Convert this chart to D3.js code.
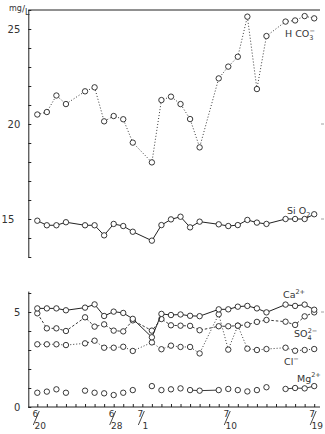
<!DOCTYPE html>
<html><head><meta charset="utf-8">
<script src="https://cdn.jsdelivr.net/npm/d3@7"></script>
<style>
html,body{margin:0;padding:0;background:#fff;}
svg text{font-family:"DejaVu Sans",sans-serif;fill:#333;}
</style></head>
<body><svg id="c" width="325" height="434"></svg>
<script>
// day index 0 = 6/20 ... 29 = 7/19 ; null = no sample
const days = d3.range(0, 30);
const hco3 = [20.5,20.63,21.5,21.05,null,21.72,21.93,20.14,20.42,20.25,19.02,null,17.98,21.26,21.44,21.05,20.26,18.77,null,22.4,23.02,23.54,25.65,21.84,24.63,null,25.39,25.45,25.68,25.56];
const sio2 = [14.91,14.67,14.67,14.83,null,14.67,14.67,14.14,14.74,14.63,14.33,null,13.86,14.68,14.98,15.12,14.56,14.86,null,14.72,14.63,14.68,14.95,14.81,14.74,null,15.0,15.0,15.0,15.25];
const ca   = [5.19,5.19,5.19,5.09,null,5.23,5.4,4.79,5.02,4.95,4.64,null,3.67,4.9,4.84,4.87,4.8,4.78,null,5.14,5.14,5.28,5.32,5.19,4.98,null,5.39,5.32,5.39,5.12];
const so4  = [4.93,4.14,4.14,4.0,null,4.72,4.23,4.35,4.02,3.98,4.56,null,4.02,4.63,4.3,4.28,4.27,4.04,null,4.25,4.25,4.28,4.33,4.48,4.58,null,4.49,4.32,4.77,4.98];
const cl   = [3.3,3.3,3.3,3.26,null,3.35,3.49,3.12,3.12,3.17,2.95,null,3.4,3.04,3.23,3.16,3.16,2.82,null,4.88,3.02,4.28,3.07,3.0,3.05,null,3.12,2.96,3.0,3.05];
const mg   = [0.75,0.81,0.93,0.75,null,0.86,0.75,0.72,0.63,0.75,0.89,null,1.1,0.89,0.93,0.98,0.89,0.86,null,0.89,0.95,0.89,0.82,0.89,1.04,null,0.95,1.0,0.98,1.1];
const mgLinks = [[16,17],[17,19],[26,27],[27,28],[28,29]];
const dateTickIdx = [0, 8, 11, 20, 29];
const dateNum = ["6","6","7","7","7"];
const dateDen = ["20","28","1","10","19"];
const topTickLabels = [15, 20, 25];
const botTickLabels = [0, 5];

const svg = d3.select("#c");
const x = d3.scaleLinear().domain([0, 29]).range([37.3, 314.2]);
const yTop = d3.scaleLinear().domain([13, 26]).range([257, 10]);
const yBot = d3.scaleLinear().domain([0, 6.1]).range([407, 291.1]);
const axisX = 28.3, rightX = 320;

// left axes
const gTop = svg.append("g").attr("transform", `translate(${axisX},0)`)
  .call(d3.axisLeft(yTop).tickValues(d3.range(13, 27)).tickSize(-3).tickSizeOuter(0).tickPadding(8)
    .tickFormat(d => topTickLabels.includes(d) ? d : ""));
const gBot = svg.append("g").attr("transform", `translate(${axisX},0)`)
  .call(d3.axisLeft(yBot).tickValues(d3.range(0, 7)).tickSize(-3).tickSizeOuter(0).tickPadding(8)
    .tickFormat(d => botTickLabels.includes(d) ? d : ""));
[gTop, gBot].forEach(g => {
  g.selectAll("path,line").attr("stroke", "#222").attr("stroke-width", 1);
  g.selectAll("text").attr("font-size", 10).attr("fill", "#333").style("font-family", "DejaVu Sans");
});
gTop.selectAll(".tick").filter(d => d === 15).select("text").attr("x", -14);

// top border
svg.append("line").attr("x1", axisX).attr("x2", rightX).attr("y1", yTop(26)).attr("y2", yTop(26))
  .attr("stroke", "#222").attr("stroke-width", 1);

// bottom axis
const gX = svg.append("g").attr("transform", `translate(0,${yBot(0)})`)
  .call(d3.axisBottom(x).tickValues(days).tickSize(-3).tickSizeOuter(0).tickFormat(""));
gX.select(".domain").remove();
gX.selectAll("line").attr("stroke", "#222");
svg.append("line").attr("x1", axisX).attr("x2", rightX).attr("y1", yBot(0)).attr("y2", yBot(0))
  .attr("stroke", "#222").attr("stroke-width", 1);

// right stubs
[[yTop(20)],[yTop(15)],[yBot(5)]].forEach(([yy]) =>
  svg.append("line").attr("x1", rightX + 1).attr("x2", rightX + 4).attr("y1", yy).attr("y2", yy)
    .attr("stroke", "#888").attr("stroke-width", 0.8));

// date labels
dateTickIdx.forEach((di, k) => {
  const cx = x(di);
  svg.append("text").attr("x", cx - 2).attr("y", 417).attr("text-anchor", "middle").attr("font-size", 9).text(dateNum[k]);
  svg.append("line").attr("x1", cx - 4).attr("y1", 425).attr("x2", cx + 2).attr("y2", 411)
    .attr("stroke", "#333").attr("stroke-width", 0.9);
  svg.append("text").attr("x", cx + 3).attr("y", 429).attr("text-anchor", "middle").attr("font-size", 9).text(dateDen[k]);
});

// mg/L unit
const u = svg.append("text").attr("x", 9).attr("y", 11).attr("font-size", 8);
u.append("tspan").text("mg");
u.append("tspan").attr("font-size", 9).attr("dy", 1).text("/");
u.append("tspan").attr("font-size", 8).attr("dy", 3).text("L");

function series(vals, y, dash, width) {
  const pts = days.map(i => [i, vals[i]]).filter(d => d[1] != null);
  if (dash !== null) {
    svg.append("path").datum(pts)
      .attr("d", d3.line().x(d => x(d[0])).y(d => y(d[1])))
      .attr("fill", "none").attr("stroke", "#222").attr("stroke-width", width)
      .attr("stroke-dasharray", dash);
  }
  svg.append("g").selectAll("circle").data(pts).join("circle")
    .attr("cx", d => x(d[0])).attr("cy", d => y(d[1])).attr("r", 2.7)
    .attr("fill", "#fff").attr("stroke", "#222").attr("stroke-width", 0.9);
}

series(hco3, yTop, "1,2", 0.9);
series(sio2, yTop, "none", 1);
series(cl, yBot, "1,2", 0.9);
series(so4, yBot, "2.5,2", 0.9);
series(ca, yBot, "none", 1);
// Mg: only a few linked segments
svg.append("g").selectAll("line").data(mgLinks).join("line")
  .attr("x1", d => x(d[0])).attr("y1", d => yBot(mg[d[0]]))
  .attr("x2", d => x(d[1])).attr("y2", d => yBot(mg[d[1]]))
  .attr("stroke", "#222").attr("stroke-width", 0.9);
series(mg, yBot, null, 0);

// series labels
function chem(xp, yp, parts) {
  const t = svg.append("text").attr("x", xp).attr("y", yp).attr("font-size", 9.5);
  parts.forEach(p => {
    const s = t.append("tspan").text(p.t);
    if (p.fs) s.attr("font-size", p.fs);
    if (p.dy) s.attr("dy", p.dy);
    if (p.dx) s.attr("dx", p.dx);
  });
}
chem(285, 37, [{t:"H CO"},{t:"3",fs:6.5,dy:2.5},{t:"−",fs:6.5,dy:-7,dx:-4}]);
chem(287, 214, [{t:"Si O"},{t:"2",fs:6.5,dy:2.5}]);
chem(283, 298, [{t:"Ca"},{t:"2+",fs:6.5,dy:-4}]);
chem(294, 337, [{t:"SO"},{t:"4",fs:6.5,dy:2.5},{t:"2−",fs:6.5,dy:-7,dx:-4}]);
chem(284, 365, [{t:"Cl"},{t:"−",fs:6.5,dy:-4}]);
chem(297, 382, [{t:"Mg"},{t:"2+",fs:6.5,dy:-5}]);
</script></body></html>
